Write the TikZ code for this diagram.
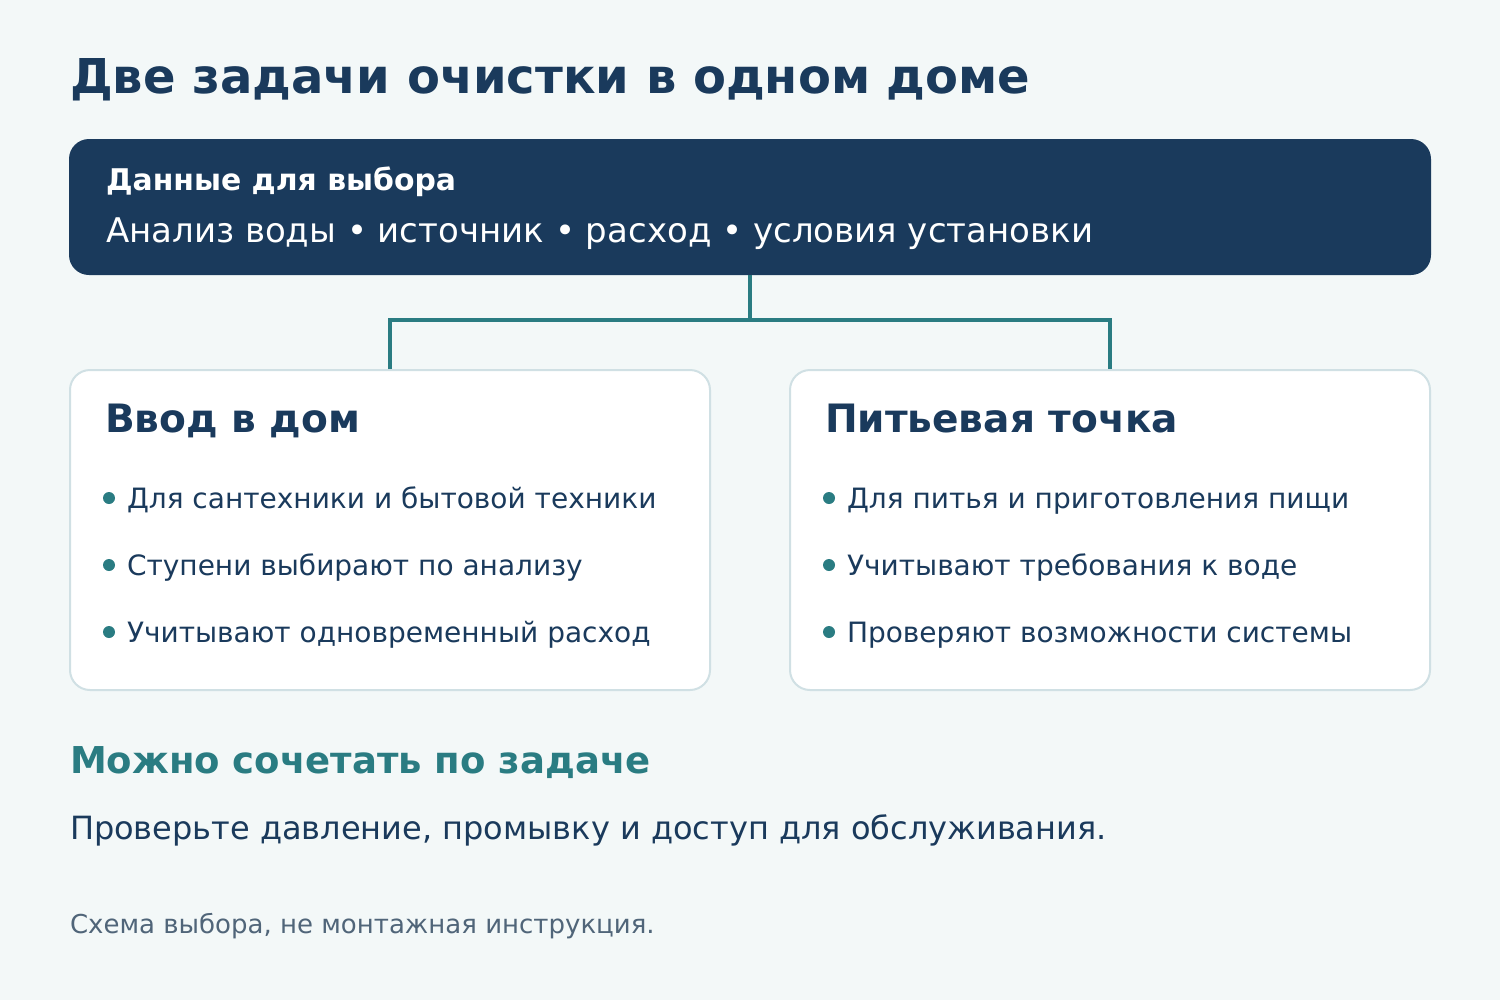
\documentclass[tikz,border=0pt]{standalone}
\usepackage{fontspec}
\setmainfont{DejaVu Sans}
\usepackage{xcolor}
\usetikzlibrary{positioning}
\definecolor{navy}{HTML}{1A3A5C}
\definecolor{tealline}{HTML}{2A7C82}
\definecolor{pagebg}{HTML}{F3F8F8}
\definecolor{cardline}{HTML}{D0E0E4}
\definecolor{notegray}{HTML}{506579}
\begin{document}
\begin{tikzpicture}[x=0.75pt, y=-0.75pt,
    txt/.style={anchor=base west, inner sep=0pt, outer sep=0pt},
    card/.style={draw=cardline, line width=1.5pt, fill=white, rounded corners=15pt,
        minimum width=480pt, minimum height=240pt, inner sep=0pt},
    link/.style={draw=tealline, line width=3pt}]
        % Page
        \fill[pagebg] (0,0) rectangle (1500,1000);
        \useasboundingbox (0,0) rectangle (1500,1000);
        
        % Title
        \node[txt, text=navy, font=\bfseries\fontsize{36pt}{42pt}\selectfont] (title) at (70,93) {Две задачи очистки в одном доме};
        
        % Input data box
        \node[fill=navy, rounded corners=15pt, minimum width=1021.5pt, minimum height=102pt, inner sep=0pt] (data) at (750,207) {};
        \node[txt, text=white, font=\bfseries\fontsize{22.4pt}{26pt}\selectfont] (datahead) at (106,190) {Данные для выбора};
        \node[txt, text=white, font=\fontsize{25.5pt}{30pt}\selectfont] (datalist) at (106,242) {Анализ воды • источник • расход • условия установки};
        
        % Two cards
        \node[card] (home) at (390,530) {};
        \node[card] (drink) at (1110,530) {};
        
        % Connectors
        \coordinate (split) at (750,320);
        \path[link] (data.south) -- (split);
        \path[link] (home.north) |- (split) -| (drink.north);
        
        % Card titles
        \node[txt, text=navy, font=\bfseries\fontsize{29.3pt}{34pt}\selectfont] (hometitle) at (105,432) {Ввод в дом};
        \node[txt, text=navy, font=\bfseries\fontsize{29.3pt}{34pt}\selectfont] (drinktitle) at (825,432) {Питьевая точка};
        
        % Bullets
        \foreach \y/\a/\b [count=\i] in {
            508/{Для сантехники и бытовой техники}/{Для питья и приготовления пищи},
            575/{Ступени выбирают по анализу}/{Учитывают требования к воде},
            642/{Учитывают одновременный расход}/{Проверяют возможности системы}} {
            \fill[tealline] (109,\y-10) circle (4.5pt);
            \node[txt, text=navy, font=\fontsize{21pt}{25pt}\selectfont] (homeitem\i) at (127,\y) {\a};
            \fill[tealline] (829,\y-10) circle (4.5pt);
            \node[txt, text=navy, font=\fontsize{21pt}{25pt}\selectfont] (drinkitem\i) at (847,\y) {\b};
        }
        
        % Bottom notes
        \node[txt, text=tealline, font=\bfseries\fontsize{27.75pt}{32pt}\selectfont] (combine) at (70,773) {Можно сочетать по задаче};
        \node[txt, text=navy, font=\fontsize{24pt}{28pt}\selectfont] (check) at (70,839) {Проверьте давление, промывку и доступ для обслуживания.};
        \node[txt, text=notegray, font=\fontsize{19.5pt}{23pt}\selectfont] (note) at (70,933) {Схема выбора, не монтажная инструкция.};
    \end{tikzpicture}
\end{document}
